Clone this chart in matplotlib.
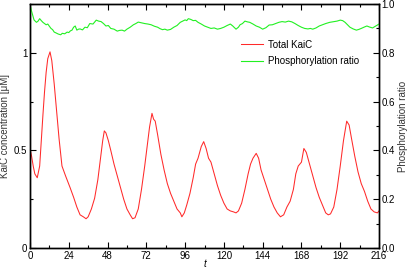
import numpy as np
import matplotlib
matplotlib.use('Agg')
import matplotlib.pyplot as plt
from matplotlib.ticker import MultipleLocator, FormatStrFormatter

# Total KaiC (left axis, uM)
t_kaic = [0, 1, 2, 3, 4.5, 6, 7, 8, 9, 10, 11, 12.4, 13.5, 15, 16.5, 18, 19.8, 22, 24.8, 27,
          29, 31, 33, 34.7, 36, 38, 40, 42, 43.5, 45, 46, 47, 48.5, 50, 52, 54, 56, 58, 60, 62,
          63.5, 65, 67, 69, 71, 72.5, 74, 75.5, 76.5, 77.5, 79, 81, 83, 85, 87, 89, 91, 93, 94, 95.5,
          97, 99, 101, 102.5, 104, 106, 107.5, 109, 110.5, 112, 114, 116, 118, 120, 122, 124, 126, 127.5, 129, 131,
          133, 135, 136.5, 138, 140, 141.5, 143, 145, 147, 149, 151, 153, 155, 157, 159, 161, 163, 164.5, 166, 168,
          169.5, 171, 173, 175, 177, 179, 181, 183, 184.6, 186, 188, 190, 192, 194, 196, 197.5, 199, 201, 203, 205,
          207, 209, 211, 213, 215, 216]
kaic = [0.51, 0.47, 0.42, 0.38, 0.36, 0.42, 0.55, 0.68, 0.80, 0.90, 0.97, 1.005, 0.96, 0.84, 0.70, 0.56, 0.42, 0.37, 0.31, 0.26,
        0.21, 0.17, 0.16, 0.15, 0.16, 0.20, 0.255, 0.35, 0.45, 0.55, 0.60, 0.59, 0.55, 0.50, 0.43, 0.37, 0.31, 0.25, 0.20, 0.17,
        0.15, 0.155, 0.20, 0.30, 0.42, 0.52, 0.62, 0.69, 0.66, 0.65, 0.58, 0.48, 0.40, 0.33, 0.28, 0.24, 0.20, 0.18, 0.16, 0.18,
        0.22, 0.28, 0.36, 0.43, 0.46, 0.52, 0.545, 0.51, 0.46, 0.44, 0.38, 0.32, 0.27, 0.23, 0.20, 0.19, 0.185, 0.18, 0.19, 0.23,
        0.30, 0.38, 0.43, 0.46, 0.485, 0.46, 0.40, 0.35, 0.30, 0.25, 0.21, 0.18, 0.16, 0.17, 0.21, 0.24, 0.30, 0.38, 0.42, 0.44,
        0.51, 0.49, 0.43, 0.37, 0.31, 0.26, 0.22, 0.18, 0.17, 0.175, 0.21, 0.30, 0.42, 0.55, 0.65, 0.63, 0.56, 0.47, 0.39, 0.33,
        0.29, 0.24, 0.20, 0.185, 0.18, 0.19]

# Phosphorylation ratio (right axis)
t_phos = [0, 1, 2.5, 4, 5, 6, 7, 8, 10, 11, 13, 14, 15, 16, 17.5, 19, 20, 21.5, 23, 24, 25, 26, 27, 28, 29, 30, 31, 32.5, 34, 35.5, 37, 39, 41,
          42.5, 44, 45.5, 47, 48.5, 50, 52, 54, 55.5, 57, 58.5, 60, 62, 64, 65.5, 67, 69, 71, 73, 75, 77, 79, 80.5, 82, 83.5, 85, 87, 89, 91, 93, 94.5, 96, 97, 98, 99.5, 101, 102.5, 104, 106, 108,
          110, 112, 114, 116, 118, 120, 122, 124, 125.5, 127.5, 129, 130, 131.5, 133, 134.5, 136, 138, 140, 142, 144, 146, 148, 150, 152, 154, 156, 158, 160, 162, 164, 166, 168, 170, 172, 173.5, 175, 177, 179, 181, 183,
          185.5, 188, 190, 192, 193.5, 195, 196.5, 198, 200, 202, 203.5, 205, 207, 208.5, 210, 212, 214, 216]
phos = [1.0, 0.97, 0.935, 0.925, 0.93, 0.94, 0.932, 0.925, 0.915, 0.918, 0.90, 0.895, 0.885, 0.882, 0.877, 0.874, 0.88, 0.878, 0.885, 0.883, 0.89, 0.893, 0.905, 0.91, 0.893, 0.897, 0.898, 0.894, 0.905, 0.903, 0.92, 0.918, 0.934,
        0.93, 0.928, 0.92, 0.91, 0.912, 0.90, 0.897, 0.889, 0.892, 0.893, 0.889, 0.897, 0.905, 0.915, 0.92, 0.926, 0.923, 0.92, 0.918, 0.915, 0.909, 0.905, 0.899, 0.895, 0.897, 0.893, 0.896, 0.905, 0.912, 0.925, 0.93, 0.935, 0.932, 0.94, 0.937, 0.932, 0.933, 0.925, 0.918, 0.91,
        0.905, 0.90, 0.902, 0.897, 0.9, 0.905, 0.912, 0.918, 0.91, 0.897, 0.905, 0.915, 0.92, 0.93, 0.927, 0.925, 0.918, 0.91, 0.905, 0.897, 0.903, 0.914, 0.915, 0.92, 0.925, 0.928, 0.926, 0.93, 0.927, 0.92, 0.912, 0.905, 0.9, 0.898, 0.9, 0.897, 0.902, 0.91, 0.915, 0.92,
        0.925, 0.928, 0.93, 0.934, 0.932, 0.925, 0.915, 0.905, 0.898, 0.893, 0.896, 0.90, 0.906, 0.91, 0.906, 0.902, 0.91, 0.918]

plt.rcParams['font.family'] = ['Liberation Sans', 'DejaVu Sans']

fig = plt.figure(figsize=(4.09, 2.69), dpi=100)
ax = fig.add_axes([0.0733, 0.078, 0.8534, 0.907])
ax2 = ax.twinx()

l1, = ax.plot(t_kaic, kaic, color='#ff2a2a', lw=0.75, label='Total KaiC')
l2, = ax2.plot(t_phos, phos, color='#22f022', lw=0.8, label='Phosphorylation ratio')

ax.set_xlim(0, 216)
ax.set_ylim(0, 1.25)
ax2.set_ylim(0, 1.0)

ax.xaxis.set_major_locator(MultipleLocator(24))
ax.xaxis.set_minor_locator(MultipleLocator(12))
ax.yaxis.set_major_locator(MultipleLocator(0.5))
ax.yaxis.set_minor_locator(MultipleLocator(0.25))
ax.yaxis.set_major_formatter(plt.FuncFormatter(lambda v, p: f'{v:g}'))
ax2.yaxis.set_major_locator(MultipleLocator(0.2))
ax2.yaxis.set_minor_locator(MultipleLocator(0.1))
ax2.yaxis.set_major_formatter(FormatStrFormatter('%.1f'))

ax.tick_params(which='both', direction='in', top=True, right=False, labelsize=7, pad=2)
ax.tick_params(which='major', length=4.5, width=0.8)
ax.tick_params(which='minor', length=2.2, width=0.8)
ax2.tick_params(which='both', direction='in', labelsize=7, pad=2)
ax2.tick_params(which='major', length=4.5, width=0.8)
ax2.tick_params(which='minor', length=2.2, width=0.8)

for a in (ax, ax2):
    for s in a.spines.values():
        s.set_linewidth(1.0)

ax.set_xlabel('t', fontsize=7, style='italic', labelpad=-1.5)
ax.set_ylabel('KaiC concentration [\u03bcM]', fontsize=7, labelpad=3, color='#333333')
ax2.set_ylabel('Phosphorylation ratio', fontsize=7, labelpad=2, color='#333333')

ax.legend([l1, l2], ['Total KaiC', 'Phosphorylation ratio'], loc='upper left',
          bbox_to_anchor=(0.58, 0.89), frameon=False, fontsize=7,
          handlelength=2.2, handletextpad=0.6, labelspacing=0.7)

fig.savefig('out.png', dpi=100)
